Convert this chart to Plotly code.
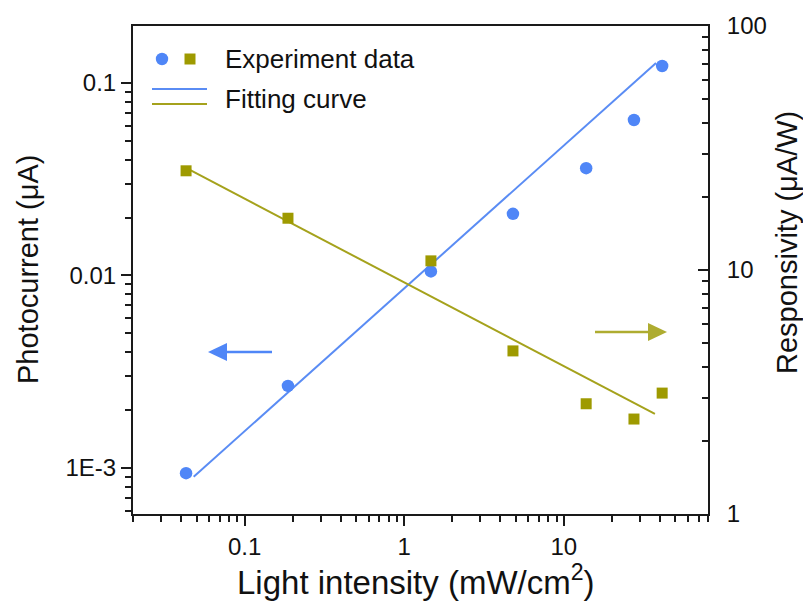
import math
import plotly.graph_objects as go

# ---- data ----
intensity = [0.043, 0.187, 1.47, 4.8, 13.8, 27.5, 41.3]          # mW/cm^2
photocurrent = [9.4e-4, 2.67e-3, 0.0105, 0.0209, 0.0361, 0.0642, 0.1225]  # uA
responsivity = [25.5, 16.3, 10.9, 4.66, 2.83, 2.45, 3.13]        # uA/W

fit_pc_x = [0.048, 37.8]
fit_pc_y = [9.0e-4, 0.127]
fit_r_x = [0.043, 37.2]
fit_r_y = [26.2, 2.57]

x_ticks = [0.1, 1, 10]
x_ticktext = ["0.1", "1", "10"]
y_ticks = [0.001, 0.01, 0.1]
y_ticktext = ["1E-3", "0.01", "0.1"]
y2_ticks = [1, 10, 100]
y2_ticktext = ["1", "10", "100"]

BLUE = "#4F86F7"
BLUE_LINE = "#5A8CF4"
OLIVE = "#9E9A00"
OLIVE_LINE = "#A5A21C"
OLIVE_ARROW = "#AEAC30"
AXIS = "#1a1a1a"
FONT = "Liberation Sans, Arial, sans-serif"

# page body has an 8px default margin; plot area targeted at window px 133-708 x 26-514
OFF = 8
L, T, PW, PH = 133 - OFF, 26 - OFF, 575, 488

fig = go.Figure()
fig.add_trace(go.Scatter(x=fit_pc_x, y=fit_pc_y, mode="lines",
                         line=dict(color=BLUE_LINE, width=2), yaxis="y", showlegend=False))
fig.add_trace(go.Scatter(x=intensity, y=photocurrent, mode="markers",
                         marker=dict(symbol="circle", size=12.5, color=BLUE, line=dict(width=0)),
                         yaxis="y", showlegend=False))
fig.add_trace(go.Scatter(x=fit_r_x, y=fit_r_y, mode="lines",
                         line=dict(color=OLIVE_LINE, width=2), yaxis="y2", showlegend=False))
fig.add_trace(go.Scatter(x=intensity, y=responsivity, mode="markers",
                         marker=dict(symbol="square", size=11, color=OLIVE, line=dict(width=0)),
                         yaxis="y2", showlegend=False))

axis_common = dict(type="log", showgrid=False, zeroline=False, showline=True,
                   linewidth=2, linecolor=AXIS, tickwidth=2, tickcolor=AXIS,
                   tickfont=dict(size=24, color="#111", family=FONT))

fig.update_layout(
    width=811 - OFF, height=613 - OFF,
    margin=dict(l=L, r=811 - OFF - L - PW, t=T, b=613 - OFF - T - PH, autoexpand=False),
    paper_bgcolor="white", plot_bgcolor="white",
    font=dict(family=FONT, color="#111"),
    xaxis=dict(**axis_common, range=[math.log10(0.02), math.log10(80)],
               tickvals=x_ticks, ticktext=x_ticktext, ticks="outside", ticklen=10,
               mirror=True,
               minor=dict(ticks="outside", ticklen=6, tickwidth=1.5, tickcolor=AXIS, dtick="D1")),
    yaxis=dict(**axis_common, range=[-3.239, -0.704],
               tickvals=y_ticks, ticktext=y_ticktext, ticks="outside", ticklen=10,
               minor=dict(ticks="outside", ticklen=6, tickwidth=1.5, tickcolor=AXIS, dtick="D1")),
    yaxis2=dict(**axis_common, range=[0, 2], overlaying="y", side="right",
                tickvals=y2_ticks, ticktext=y2_ticktext, ticks="inside", ticklen=10,
                ticklabelstandoff=12,
                minor=dict(ticks="inside", ticklen=6, tickwidth=1.5, tickcolor=AXIS, dtick="D1")),
)

def px2paper(px, py):
    """window pixel -> paper fraction of the plot area"""
    return (px - 133) / PW, (514 - py) / PH

annotations = []
tx, ty = px2paper(416, 580)
annotations.append(dict(text="Light intensity (mW/cm<sup>2</sup>)", x=tx, y=ty, xref="paper", yref="paper",
                        showarrow=False, font=dict(size=33, family=FONT, color="#111"),
                        xanchor="center", yanchor="middle"))
tx, ty = px2paper(28, 270)
annotations.append(dict(text="Photocurrent (μA)", x=tx, y=ty, xref="paper", yref="paper",
                        showarrow=False, textangle=-90, font=dict(size=29, family=FONT, color="#111"),
                        xanchor="center", yanchor="middle"))
tx, ty = px2paper(787, 243)
annotations.append(dict(text="Responsivity (μA/W)", x=tx, y=ty, xref="paper", yref="paper",
                        showarrow=False, textangle=-90, font=dict(size=29, family=FONT, color="#111"),
                        xanchor="center", yanchor="middle"))
tx, ty = px2paper(223, 59)
annotations.append(dict(text="Experiment data", x=tx, y=ty, xref="paper", yref="paper",
                        showarrow=False, font=dict(size=26, family=FONT, color="#111"),
                        xanchor="left", yanchor="middle"))
tx, ty = px2paper(223, 99)
annotations.append(dict(text="Fitting curve", x=tx, y=ty, xref="paper", yref="paper",
                        showarrow=False, font=dict(size=26, family=FONT, color="#111"),
                        xanchor="left", yanchor="middle"))
fig.update_layout(annotations=annotations)

shapes = []
# legend symbols
cx, cy = px2paper(162, 59)
shapes.append(dict(type="circle", xref="paper", yref="paper", xsizemode="pixel", ysizemode="pixel",
                   xanchor=cx, yanchor=cy, x0=-6.2, x1=6.2, y0=-6.2, y1=6.2,
                   fillcolor=BLUE, line=dict(width=0)))
cx, cy = px2paper(190, 59)
shapes.append(dict(type="rect", xref="paper", yref="paper", xsizemode="pixel", ysizemode="pixel",
                   xanchor=cx, yanchor=cy, x0=-5.5, x1=5.5, y0=-5.5, y1=5.5,
                   fillcolor=OLIVE, line=dict(width=0)))
for yy, col in ((89, BLUE_LINE), (104, OLIVE_LINE)):
    x0, y0 = px2paper(152, yy)
    x1, _ = px2paper(207, yy)
    shapes.append(dict(type="line", xref="paper", yref="paper", x0=x0, x1=x1, y0=y0, y1=y0,
                       line=dict(color=col, width=2)))

# arrows pointing to the axes
def arrow(tip_px, tail_px, ypx, color):
    d = 1 if tail_px > tip_px else -1
    hx0, hy = px2paper(tip_px + d * 15, ypx)
    tx1, _ = px2paper(tail_px, ypx)
    shapes.append(dict(type="line", xref="paper", yref="paper", x0=hx0, x1=tx1, y0=hy, y1=hy,
                       line=dict(color=color, width=2.5)))
    ax, ay = px2paper(tip_px, ypx)
    shapes.append(dict(type="path", xref="paper", yref="paper", xsizemode="pixel", ysizemode="pixel",
                       xanchor=ax, yanchor=ay,
                       path=f"M 0,0 L {d*19},-9 L {d*19},9 Z",
                       fillcolor=color, line=dict(width=0)))

arrow(208, 272, 352, BLUE)
arrow(667, 595, 332, OLIVE_ARROW)
fig.update_layout(shapes=shapes)

fig.write_html("out.html")
